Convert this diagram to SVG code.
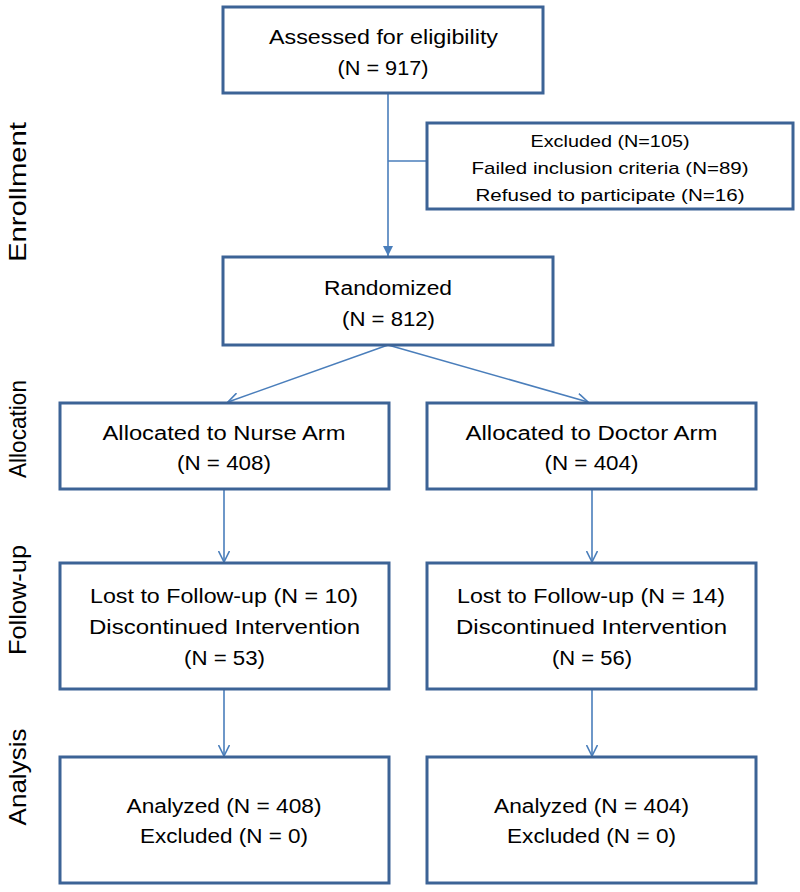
<svg xmlns="http://www.w3.org/2000/svg" width="800" height="892" viewBox="0 0 800 892">
<style>
.box{fill:#fff;stroke:#3c6396;stroke-width:3}
.conn{stroke:#4a7ebb;stroke-width:1.6;fill:none}
.t{font-family:"Liberation Sans",Arial,sans-serif;fill:#000;text-anchor:middle}
.big{font-size:19.5px}
.sm{font-size:17px}
.side{font-size:24px}
</style>
<defs>
<marker id="open" viewBox="0 0 12 12" refX="11.5" refY="6" markerWidth="12" markerHeight="12" markerUnits="userSpaceOnUse" orient="auto">
<path d="M0.5,0.5 L11.5,6 L0.5,11.5" fill="none" stroke="#4a7ebb" stroke-width="1.6"/>
</marker>
<marker id="solid" viewBox="0 0 10 10" refX="10" refY="5" markerWidth="10" markerHeight="10" markerUnits="userSpaceOnUse" orient="auto">
<path d="M0,0 L10,5 L0,10 Z" fill="#4a7ebb"/>
</marker>
</defs>
<rect width="800" height="892" fill="#fff"/>

<g id="connectors">
<line class="conn" x1="388" y1="93" x2="388" y2="256" marker-end="url(#solid)"/>
<line class="conn" x1="388" y1="161" x2="427" y2="161"/>
<line class="conn" x1="388" y1="345" x2="228" y2="402" marker-end="url(#open)"/>
<line class="conn" x1="388" y1="345" x2="588" y2="402" marker-end="url(#open)"/>
<line class="conn" x1="224" y1="489" x2="224" y2="562" marker-end="url(#open)"/>
<line class="conn" x1="592" y1="489" x2="592" y2="562" marker-end="url(#open)"/>
<line class="conn" x1="224" y1="689" x2="224" y2="756" marker-end="url(#open)"/>
<line class="conn" x1="592" y1="689" x2="592" y2="756" marker-end="url(#open)"/>
</g>

<g id="labels">
<text class="t side" transform="translate(26,192) rotate(-90)" textLength="140" lengthAdjust="spacingAndGlyphs">Enrollment</text>
<text class="t side" transform="translate(26,429) rotate(-90)" textLength="98" lengthAdjust="spacingAndGlyphs">Allocation</text>
<text class="t side" transform="translate(26,600) rotate(-90)" textLength="110" lengthAdjust="spacingAndGlyphs">Follow-up</text>
<text class="t side" transform="translate(26,777) rotate(-90)" textLength="97" lengthAdjust="spacingAndGlyphs">Analysis</text>
</g>

<g id="assessed">
<rect class="box" x="223" y="7" width="320" height="86"/>
<text class="t big" x="383.5" y="44" textLength="229" lengthAdjust="spacingAndGlyphs">Assessed for eligibility</text>
<text class="t big" x="383" y="75" textLength="91" lengthAdjust="spacingAndGlyphs">(N = 917)</text>
</g>

<g id="excluded">
<rect class="box" x="427" y="123" width="366" height="86"/>
<text class="t sm" x="610" y="147" textLength="159" lengthAdjust="spacingAndGlyphs">Excluded (N=105)</text>
<text class="t sm" x="610" y="174" textLength="277" lengthAdjust="spacingAndGlyphs">Failed inclusion criteria (N=89)</text>
<text class="t sm" x="610" y="201" textLength="269" lengthAdjust="spacingAndGlyphs">Refused to participate (N=16)</text>
</g>

<g id="randomized">
<rect class="box" x="223" y="257" width="330" height="88"/>
<text class="t big" x="388" y="295" textLength="128" lengthAdjust="spacingAndGlyphs">Randomized</text>
<text class="t big" x="388.5" y="326" textLength="93" lengthAdjust="spacingAndGlyphs">(N = 812)</text>
</g>

<g id="alloc-nurse">
<rect class="box" x="60" y="403" width="329" height="86"/>
<text class="t big" x="224" y="440" textLength="243" lengthAdjust="spacingAndGlyphs">Allocated to Nurse Arm</text>
<text class="t big" x="224" y="470" textLength="94" lengthAdjust="spacingAndGlyphs">(N = 408)</text>
</g>

<g id="alloc-doctor">
<rect class="box" x="427" y="403" width="329" height="86"/>
<text class="t big" x="591.5" y="440" textLength="252" lengthAdjust="spacingAndGlyphs">Allocated to Doctor Arm</text>
<text class="t big" x="591.5" y="470" textLength="94" lengthAdjust="spacingAndGlyphs">(N = 404)</text>
</g>

<g id="followup-nurse">
<rect class="box" x="60" y="563" width="329" height="126"/>
<text class="t big" x="224" y="603" textLength="268" lengthAdjust="spacingAndGlyphs">Lost to Follow-up (N = 10)</text>
<text class="t big" x="224.5" y="634" textLength="271" lengthAdjust="spacingAndGlyphs">Discontinued Intervention</text>
<text class="t big" x="224.5" y="665" textLength="81" lengthAdjust="spacingAndGlyphs">(N = 53)</text>
</g>

<g id="followup-doctor">
<rect class="box" x="427" y="563" width="329" height="126"/>
<text class="t big" x="591" y="603" textLength="268" lengthAdjust="spacingAndGlyphs">Lost to Follow-up (N = 14)</text>
<text class="t big" x="591.5" y="634" textLength="271" lengthAdjust="spacingAndGlyphs">Discontinued Intervention</text>
<text class="t big" x="592" y="665" textLength="80" lengthAdjust="spacingAndGlyphs">(N = 56)</text>
</g>

<g id="analysis-nurse">
<rect class="box" x="60" y="757" width="329" height="126"/>
<text class="t big" x="224" y="813" textLength="195" lengthAdjust="spacingAndGlyphs">Analyzed (N = 408)</text>
<text class="t big" x="224" y="843" textLength="168" lengthAdjust="spacingAndGlyphs">Excluded (N = 0)</text>
</g>

<g id="analysis-doctor">
<rect class="box" x="427" y="757" width="329" height="126"/>
<text class="t big" x="591.5" y="813" textLength="195" lengthAdjust="spacingAndGlyphs">Analyzed (N = 404)</text>
<text class="t big" x="591.5" y="843" textLength="169" lengthAdjust="spacingAndGlyphs">Excluded (N = 0)</text>
</g>
</svg>
